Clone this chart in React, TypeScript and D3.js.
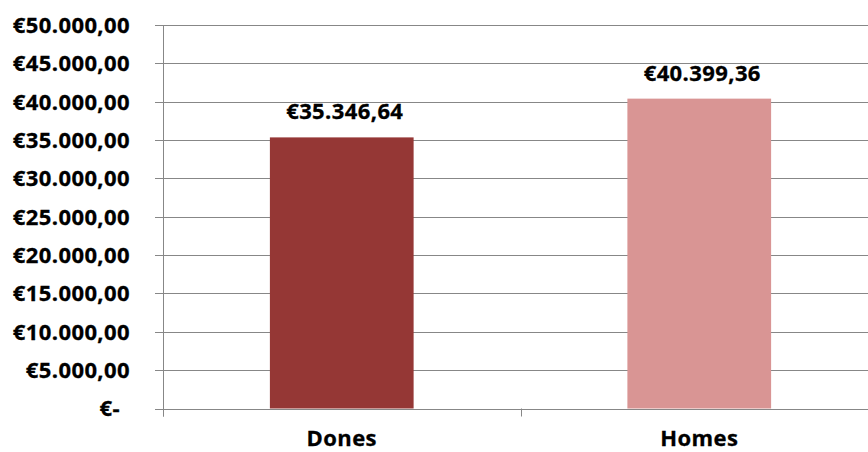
import React from "react";
import * as d3 from "d3";

const categories = ["Dones", "Homes"];
const values = [35346.64, 40399.36];
const barColors = ["#953735", "#D99594"];
const yTicks = [0, 5000, 10000, 15000, 20000, 25000, 30000, 35000, 40000, 45000, 50000];

const W = 868;
const H = 452;
const left = 163;
const right = 878;
const top = 25;
const bottom = 408.5;

const fmt = (v: number) => {
  if (v === 0) return "€-";
  const s = v.toFixed(2);
  const [i, d] = s.split(".");
  const ii = i.replace(/\B(?=(\d{3})+(?!\d))/g, ".");
  return "€" + ii + "," + d;
};

export default function App() {
  const x = d3.scaleBand<string>().domain(categories).range([left, right]).paddingInner(0).paddingOuter(0);
  const y = d3.scaleLinear().domain([0, 50000]).range([bottom, top]);
  const bw = x.bandwidth() * 0.402;
  const font = "'Open Sans', sans-serif";
  const axisColor = "#878787";
  const textProps = {
    fontWeight: 700,
    fontSize: 22,
    letterSpacing: 0.4,
    fill: "#000",
    stroke: "#000",
    strokeWidth: 0.3,
  } as const;
  return (
    <svg width={W} height={H} style={{ position: "absolute", left: 0, top: 0 }} fontFamily={font}>
      <rect width={W} height={H} fill="#fff" />
      {yTicks.map((t) => (
        <g key={t}>
          <line x1={left - 8} x2={right} y1={Math.round(y(t)) + 0.5} y2={Math.round(y(t)) + 0.5} stroke={axisColor} strokeWidth={1} />
          <text x={t === 0 ? 120 : 130} y={y(t)} dy="0.36em" textAnchor="end" {...textProps}>
            {fmt(t)}
          </text>
        </g>
      ))}
      <line x1={left + 0.5} x2={left + 0.5} y1={top} y2={bottom + 8} stroke={axisColor} />
      {[left, left + x.bandwidth(), right].map((tx, i) => (
        <line key={i} x1={Math.round(tx) + 0.5} x2={Math.round(tx) + 0.5} y1={bottom} y2={bottom + 8} stroke={axisColor} />
      ))}
      {categories.map((c, i) => {
        const cx = (x(c) as number) + x.bandwidth() / 2;
        return (
          <g key={c}>
            <rect x={cx - bw / 2} y={y(values[i])} width={bw} height={y(0) - y(values[i])} fill={barColors[i]} />
            <text x={cx + 3} y={y(values[i]) - 26} dy="0.36em" textAnchor="middle" {...textProps}>
              {fmt(values[i])}
            </text>
            <text x={cx} y={438.5} dy="0.36em" textAnchor="middle" {...textProps}>
              {c}
            </text>
          </g>
        );
      })}
    </svg>
  );
}
